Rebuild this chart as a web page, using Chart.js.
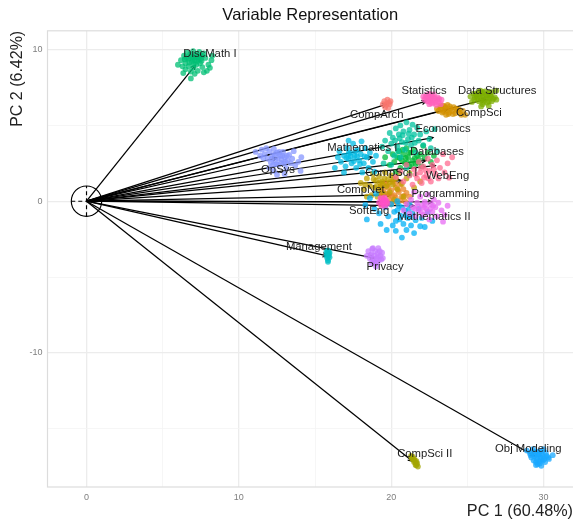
<!DOCTYPE html>
<html>
<head>
<meta charset="utf-8">
<style>html,body{margin:0;padding:0;background:#fff}canvas{display:block}</style>
<script src="https://cdn.jsdelivr.net/npm/chart.js@4"></script>
</head>
<body>
<canvas id="c" width="573" height="523"></canvas>
<script>
const xTickLabels = [0, 10, 20, 30];
const yTickLabels = [-10, 0, 10];
const categories = ["CompArch","CompNet","CompSci","CompSci I","CompSci II","Data Structures","Databases","DiscMath I","Economics","Management","Mathematics I","Mathematics II","Obj Modeling","OpSys","Privacy","Programming","SoftEng","Statistics","WebEng"];

const compArch = [[19.45,6.4],[19.55,6.6],[19.6,6.2],[19.7,6.45],[19.75,6.7],[19.8,6.15],[19.9,6.4],[19.95,6.6],[19.65,6.35],[19.85,6.5]];
const compNet = [[19.2,0.6],[19.3,1.0],[19.4,0.3],[19.5,0.8],[19.6,1.2],[19.7,0.5],[19.8,0.9],[19.9,0.1],[20.0,0.7],[20.1,1.3],[20.2,0.4],[20.3,0.9],[20.4,-0.1],[20.5,0.6],[20.6,1.1],[20.7,0.3],[20.8,0.8],[20.9,0.0],[21.0,0.55],[21.1,-0.15],[21.2,0.3],[19.7,-0.1],[20.3,0.25],[20.0,-0.2],[19.5,0.1],[19.4,0.55],[19.75,1.1],[20.05,0.35],[20.45,0.75],[20.6,0.05],[20.25,1.15],[19.85,0.45],[20.85,0.35],[20.15,0.0]];
const compSci = [[23.0,6.1],[23.1,5.95],[23.2,6.2],[23.3,6.05],[23.4,6.3],[23.45,5.9],[23.55,6.15],[23.65,6.0],[23.7,6.35],[23.8,5.85],[23.9,6.1],[24.0,5.95],[24.1,6.2],[24.2,5.8],[24.35,6.0],[24.5,5.85],[24.7,5.95],[24.85,5.7],[23.6,5.7],[23.25,6.3],[23.5,6.25],[23.85,6.25],[24.05,5.75],[24.25,6.1],[24.45,6.05],[24.6,5.7],[23.35,5.85],[23.75,5.75]];
const compSciI = [[18.0,1.2],[18.2,0.8],[18.4,1.5],[18.6,1.0],[18.7,0.4],[18.8,1.8],[18.9,0.9],[19.0,1.35],[19.1,0.3],[19.2,1.65],[19.3,0.9],[19.4,1.3],[19.5,0.5],[19.6,1.9],[19.7,1.0],[19.8,1.45],[19.9,0.6],[20.0,1.7],[20.1,1.1],[20.2,0.1],[20.3,1.5],[20.4,0.8],[20.5,1.85],[20.7,1.15],[20.8,0.3],[21.0,1.5],[21.2,1.85],[21.5,0.9],[21.9,1.3],[19.3,-0.2],[18.4,0.3],[19.05,1.0],[19.25,1.25],[19.55,1.5],[19.45,1.1],[19.9,1.25],[20.15,1.45],[18.85,1.45],[19.15,0.65],[18.3,1.1]];
const compSciII = [[21.3,-16.8],[21.35,-16.95],[21.4,-16.85],[21.45,-17.05],[21.5,-17.0],[21.5,-17.2],[21.55,-17.1],[21.6,-17.25],[21.65,-17.15],[21.65,-17.4],[21.7,-17.3],[21.75,-17.5],[21.4,-17.0],[21.6,-17.4]];
const dataStructures = [[25.2,6.9],[25.4,7.1],[25.45,6.7],[25.6,6.95],[25.7,7.2],[25.75,6.6],[25.85,6.85],[25.95,7.1],[26.0,6.4],[26.1,6.7],[26.15,7.25],[26.2,6.95],[26.3,6.5],[26.35,7.15],[26.45,6.8],[26.5,7.0],[26.6,6.6],[26.65,7.2],[26.8,6.85],[26.9,7.3],[26.9,6.7],[26.4,6.3],[25.9,6.25],[25.3,6.55],[25.5,6.85],[25.55,7.05],[25.65,6.75],[25.8,7.05],[25.9,6.7],[26.0,6.95],[26.05,6.55],[26.25,6.8],[26.3,7.0],[26.4,6.6],[26.55,6.9],[26.7,6.75],[25.85,7.3],[26.0,7.2],[26.45,7.2]];
const databases = [[19.6,2.9],[19.9,2.4],[20.1,3.1],[20.2,2.6],[20.4,2.9],[20.5,3.3],[20.6,2.2],[20.7,2.7],[20.8,3.1],[20.9,2.5],[21.0,3.5],[21.1,2.9],[21.2,2.3],[21.3,3.2],[21.4,2.7],[21.5,3.4],[21.6,2.45],[21.7,3.0],[21.8,2.75],[21.9,3.1],[22.0,2.3],[22.2,2.9],[22.4,3.2],[22.6,2.6],[22.8,3.0],[20.3,1.9],[21.2,1.75],[22.1,3.65],[20.55,2.85],[20.95,2.85],[21.15,3.2],[21.35,2.45],[21.55,2.85],[21.05,2.55],[20.75,3.4],[21.75,2.55]];
const discMathI = [[6.2,9.3],[6.4,9.6],[6.5,9.1],[6.6,9.8],[6.7,9.4],[6.8,9.7],[6.9,9.2],[7.0,9.9],[7.0,9.5],[7.1,9.3],[7.2,9.7],[7.3,9.5],[7.4,9.85],[7.5,9.4],[7.6,9.6],[7.7,9.75],[6.0,9.0],[6.3,8.9],[6.5,8.7],[6.7,8.9],[6.85,8.55],[7.0,8.8],[7.1,8.4],[7.2,9.0],[7.3,8.6],[7.45,9.1],[7.6,8.85],[7.7,8.5],[7.9,8.6],[8.0,9.0],[8.2,9.3],[8.25,9.6],[8.1,8.8],[6.85,8.1],[6.35,8.45],[6.55,9.45],[6.75,9.15],[6.95,9.4],[7.15,9.55],[7.25,9.25],[7.45,9.6],[7.55,9.25],[6.45,9.35],[6.85,9.55],[7.05,9.05],[7.35,9.35],[7.8,9.45]];
const economics = [[19.4,3.6],[19.6,4.0],[19.8,3.3],[19.9,4.5],[20.0,3.8],[20.1,4.2],[20.2,3.0],[20.3,4.8],[20.4,3.6],[20.5,4.4],[20.6,5.0],[20.7,3.9],[20.8,4.6],[20.9,3.4],[21.0,5.2],[21.1,4.1],[21.2,4.7],[21.3,3.7],[21.4,5.05],[21.5,4.4],[21.6,3.2],[21.7,4.85],[21.8,4.0],[21.9,4.4],[22.1,3.7],[22.3,4.6],[22.5,4.1],[22.6,3.5],[22.85,4.75],[23.0,3.3],[20.0,2.4],[20.6,2.9],[19.5,2.5],[21.0,2.2],[20.25,4.0],[20.55,4.15],[20.75,4.35],[20.95,3.85],[21.15,4.45],[21.35,4.2],[20.45,3.3],[21.55,3.85]];
const management = [[15.75,-3.3],[15.8,-3.5],[15.85,-3.25],[15.9,-3.6],[15.8,-3.75],[15.85,-3.9],[15.75,-3.6],[15.9,-3.45],[15.95,-3.7],[15.85,-4.0],[15.95,-3.4],[15.8,-3.4]];
const mathematicsI = [[16.3,2.2],[16.5,2.9],[16.6,3.3],[16.7,2.6],[16.9,3.0],[17.0,2.3],[17.1,3.5],[17.2,2.8],[17.3,3.2],[17.4,2.5],[17.5,3.8],[17.6,3.0],[17.7,2.2],[17.8,3.4],[17.9,2.7],[18.0,3.1],[18.1,1.9],[18.2,2.5],[18.3,3.5],[18.4,2.9],[18.5,2.2],[18.6,3.2],[18.8,2.6],[18.9,1.95],[19.0,3.0],[17.2,4.0],[18.05,3.95],[16.9,1.9],[17.05,2.85],[17.35,2.95],[17.55,2.65],[17.75,2.95],[17.95,2.45],[17.65,3.3],[18.25,2.95],[17.2,3.15]];
const mathematicsII = [[18.3,-0.25],[18.4,-1.2],[18.6,0.2],[18.9,-0.5],[19.0,0.5],[19.2,-0.8],[19.3,-1.5],[19.6,-0.4],[19.8,-1.0],[20.0,-0.2],[20.1,-1.6],[20.2,-0.7],[20.3,-1.3],[20.5,-0.3],[20.6,-0.95],[20.7,-2.4],[20.8,-1.5],[20.9,-0.6],[21.0,-1.9],[21.1,-1.1],[21.2,-0.2],[21.3,-1.6],[21.4,-0.8],[21.5,-2.1],[21.6,-1.25],[21.8,-0.5],[21.9,-1.65],[22.0,-1.1],[22.2,-1.7],[22.4,-0.7],[22.7,-1.3],[19.7,-1.9],[20.4,0.0],[20.3,-1.95],[20.4,-0.6],[20.7,-0.4],[20.95,-0.95],[21.15,-0.55],[21.3,-1.0],[20.55,-1.2]];
const objModeling = [[28.9,-16.45],[29.1,-16.6],[29.2,-16.9],[29.3,-16.55],[29.35,-17.1],[29.4,-16.8],[29.5,-16.5],[29.55,-17.0],[29.6,-17.35],[29.65,-16.7],[29.7,-17.15],[29.75,-16.5],[29.8,-16.9],[29.85,-17.45],[29.9,-16.7],[29.95,-17.1],[30.0,-16.85],[30.1,-17.2],[30.15,-16.6],[30.3,-16.9],[30.6,-16.75],[29.5,-17.4],[30.0,-16.35],[29.3,-16.35],[29.45,-16.65],[29.6,-16.85],[29.7,-16.65],[29.85,-17.05],[30.05,-17.0],[29.5,-17.2],[29.75,-17.3],[30.2,-16.8],[30.35,-17.0],[29.15,-16.75],[29.9,-16.5]];
const opSys = [[11.1,3.25],[11.4,3.0],[11.5,3.4],[11.7,3.1],[11.8,3.5],[11.9,2.8],[12.0,3.3],[12.1,2.55],[12.2,3.0],[12.3,3.45],[12.4,2.7],[12.5,3.2],[12.6,2.4],[12.7,3.0],[12.8,2.75],[12.9,3.25],[12.95,2.5],[13.0,2.9],[13.1,2.2],[13.2,2.7],[13.3,3.05],[13.4,2.5],[13.5,2.8],[13.6,3.3],[13.7,2.35],[13.9,2.6],[14.1,2.9],[14.05,2.0],[12.3,2.0],[12.0,2.2],[13.0,1.8],[12.5,1.75],[12.15,2.8],[12.35,3.1],[12.55,2.85],[12.75,2.55],[12.65,3.25],[12.85,3.0],[13.05,2.6],[13.15,3.0],[12.45,2.45],[12.25,2.4],[11.6,2.85]];
const privacy = [[18.4,-3.6],[18.5,-3.3],[18.6,-3.8],[18.7,-3.5],[18.75,-3.15],[18.8,-3.95],[18.9,-3.6],[18.95,-3.3],[19.0,-4.1],[19.05,-3.75],[19.1,-3.45],[19.2,-3.85],[19.25,-3.3],[19.3,-3.6],[19.4,-3.4],[19.45,-3.75],[19.0,-4.3],[18.8,-3.1],[19.15,-3.1],[18.7,-4.1],[18.65,-3.55],[18.85,-3.8],[19.15,-3.65],[18.9,-4.05],[19.1,-4.05],[19.35,-3.85]];
const programming = [[20.8,-0.6],[21.0,-0.2],[21.2,-0.8],[21.3,0.1],[21.4,-0.4],[21.6,-1.0],[21.7,-0.1],[21.8,-0.6],[21.9,0.3],[22.0,-0.3],[22.1,-0.9],[22.2,-0.05],[22.3,-0.5],[22.4,0.45],[22.5,-1.2],[22.6,-0.2],[22.7,-0.7],[22.8,0.1],[22.9,-0.4],[23.0,-1.0],[23.1,-0.1],[23.3,-0.6],[23.5,-0.9],[23.7,-0.3],[23.4,-1.35],[21.5,0.6],[21.55,-0.5],[21.95,-0.7],[22.15,-0.4],[22.35,-0.75],[22.55,-0.5],[22.75,-0.3],[21.75,-0.35],[22.25,-0.2]];
const softEng = [[19.2,-0.1],[19.3,0.2],[19.35,-0.3],[19.45,0.05],[19.5,-0.2],[19.55,0.25],[19.6,-0.35],[19.7,0.0],[19.75,-0.15],[19.4,-0.1],[19.6,0.1]];
const statistics = [[22.1,6.9],[22.2,6.7],[22.3,7.0],[22.35,6.6],[22.4,6.85],[22.5,7.1],[22.55,6.7],[22.6,6.5],[22.7,6.9],[22.75,6.65],[22.85,6.8],[22.9,6.5],[23.0,6.7],[23.1,6.55],[23.25,6.4],[22.5,6.4],[23.3,6.7],[22.95,6.35],[22.25,6.85],[22.45,6.6],[22.65,7.0],[22.8,7.05],[22.6,6.75],[22.45,7.0],[23.05,6.85],[23.15,6.75],[22.7,6.45]];
const webEng = [[20.3,1.6],[20.6,2.0],[20.8,1.3],[21.0,2.4],[21.2,1.7],[21.4,1.1],[21.5,2.1],[21.7,1.5],[21.8,2.6],[21.9,1.9],[22.0,1.2],[22.1,2.3],[22.3,1.7],[22.4,2.8],[22.5,2.0],[22.6,1.3],[22.7,2.4],[22.9,1.8],[23.0,2.7],[23.1,1.5],[23.2,2.2],[23.4,3.1],[23.5,1.9],[23.7,2.5],[24.0,2.9],[23.8,1.55],[21.6,1.75],[22.15,1.55],[22.45,1.5],[22.8,2.1],[22.25,2.05],[21.95,2.2]];

const clusters = [compArch,compNet,compSci,compSciI,compSciII,dataStructures,databases,discMathI,economics,management,mathematicsI,mathematicsII,objModeling,opSys,privacy,programming,softEng,statistics,webEng];
const colours = ["#F8766D","#E88526","#D39200","#BFA000","#A3A500","#7CAE00","#00BA38","#00BF74","#00C19F","#00BFC4","#00B9E3","#00B0F6","#1AA8FF","#8797FF","#C77CFF","#E76BF3","#FF50C8","#FF62BC","#FF6C91"];
const arrowEndX = [19.7,20.0,23.7,20.7,21.4,26.2,22.3,7.15,22.75,15.8,18.75,21.5,29.4,12.5,18.9,22.7,19.5,22.3,22.9];
const arrowEndY = [6.4,0.42,6.05,1.35,-17.15,6.72,2.7,8.97,4.2,-3.6,2.9,-0.3,-16.8,2.85,-3.75,-0.05,-0.05,6.6,2.35];
const labelX = [19.05,18.0,25.75,20.0,22.2,26.95,23.0,8.1,23.4,15.25,18.1,22.8,29.0,12.57,19.6,23.55,18.55,22.15,23.7];
const labelY = [5.67,0.72,5.8,1.85,-16.68,7.25,3.23,9.75,4.8,-3.03,3.5,-1.05,-16.35,2.04,-4.35,0.46,-0.66,7.25,1.7];
const circleCentre = [[0,0]];
const crossH = [[-1,0],[1,0]];
const crossV = [[0,-1],[0,1]];

const toXY = a => a.map(p => ({x:p[0], y:p[1]}));
const FONT = '"Liberation Sans", Arial, sans-serif';
const datasets = [];

categories.forEach((c,i) => datasets.push({
  label:c+" arrow", showLine:true, pointRadius:0, borderColor:"#000", borderWidth:1.25, order:200,
  data:[{x:0,y:0},{x:arrowEndX[i],y:arrowEndY[i]}]
}));
datasets.push({label:"circle", data:toXY(circleCentre), pointRadius:15.2, pointBorderWidth:1.15, pointBorderColor:"#000", pointBackgroundColor:"rgba(0,0,0,0)", order:200});
datasets.push({label:"h", data:toXY(crossH), showLine:true, pointRadius:0, borderColor:"#000", borderWidth:1.15, borderDash:[4,3], order:200});
datasets.push({label:"v", data:toXY(crossV), showLine:true, pointRadius:0, borderColor:"#000", borderWidth:1.15, borderDash:[4,3], order:200});
categories.forEach((c,i) => datasets.push({
  label:c, data:toXY(clusters[i]), showLine:false, pointRadius:2.9, pointBorderWidth:0,
  pointBackgroundColor:colours[i]+"BF", order:100-i
}));

const annotations = {
  id:"annotations",
  beforeDatasetsDraw(chart){
    const {ctx, chartArea:a, scales:{x,y}} = chart;
    ctx.save();
    ctx.strokeStyle="#dcdcdc"; ctx.lineWidth=1.2;
    ctx.strokeRect(a.left,a.top,a.right-a.left+10,a.bottom-a.top);
    ctx.strokeStyle="#000"; ctx.lineWidth=1.1;
    categories.forEach((c,i)=>{
      const px=x.getPixelForValue(arrowEndX[i]), py=y.getPixelForValue(arrowEndY[i]);
      const ang=Math.atan2(py-y.getPixelForValue(0), px-x.getPixelForValue(0));
      const L=5, w=0.45;
      ctx.beginPath();
      ctx.moveTo(px-L*Math.cos(ang-w),py-L*Math.sin(ang-w));
      ctx.lineTo(px,py);
      ctx.lineTo(px-L*Math.cos(ang+w),py-L*Math.sin(ang+w));
      ctx.stroke();
    });
    ctx.restore();
  },
  afterDatasetsDraw(chart){
    const {ctx, scales:{x,y}} = chart;
    ctx.save();
    ctx.fillStyle="#1c1c1c"; ctx.font="11.3px "+FONT; ctx.textAlign="center"; ctx.textBaseline="middle";
    categories.forEach((c,i)=>ctx.fillText(c,x.getPixelForValue(labelX[i]),y.getPixelForValue(labelY[i])));
    ctx.restore();
  }
};

const gridColor = v => (v % 10 === 0) ? "#ececec" : "#f4f4f4";
const gridWidth = v => (v % 10 === 0) ? 1.3 : 0.8;

new Chart(document.getElementById("c"), {
  type:"scatter",
  data:{datasets},
  plugins:[annotations],
  options:{
    responsive:false, animation:false,
    layout:{padding:0, autoPadding:false},
    plugins:{
      legend:{display:false}, tooltip:{enabled:false},
      title:{display:true, fullSize:false, text:"Variable Representation", color:"#111", font:{family:FONT,size:16.5,weight:"normal"}, padding:{top:6,bottom:5}}
    },
    scales:{
      x:{
        type:"linear", min:-2.56, max:31.93,
        afterFit(s){ s.height=36; },
        border:{display:false},
        grid:{drawTicks:false, color:c=>gridColor(c.tick.value), lineWidth:c=>gridWidth(c.tick.value)},
        ticks:{stepSize:5, includeBounds:false, autoSkip:false, maxRotation:0, padding:5, color:"#7f7f7f", font:{family:FONT,size:9},
          callback:v=>xTickLabels.includes(v)?String(v):""},
        title:{display:true, text:"PC 1 (60.48%)", align:"end", color:"#222", font:{family:FONT,size:16.2}, padding:{top:0,bottom:2}}
      },
      y:{
        type:"linear", min:-18.85, max:11.24,
        afterFit(s){ s.width=47.5; },
        border:{display:false},
        grid:{drawTicks:false, color:c=>gridColor(c.tick.value), lineWidth:c=>gridWidth(c.tick.value)},
        ticks:{stepSize:5, includeBounds:false, autoSkip:false, padding:5, color:"#7f7f7f", font:{family:FONT,size:9},
          callback:v=>yTickLabels.includes(v)?String(v):""},
        title:{display:true, text:"PC 2 (6.42%)", align:"end", color:"#222", font:{family:FONT,size:16}, padding:{top:8,bottom:0}}
      }
    }
  }
});
</script>
</body>
</html>
